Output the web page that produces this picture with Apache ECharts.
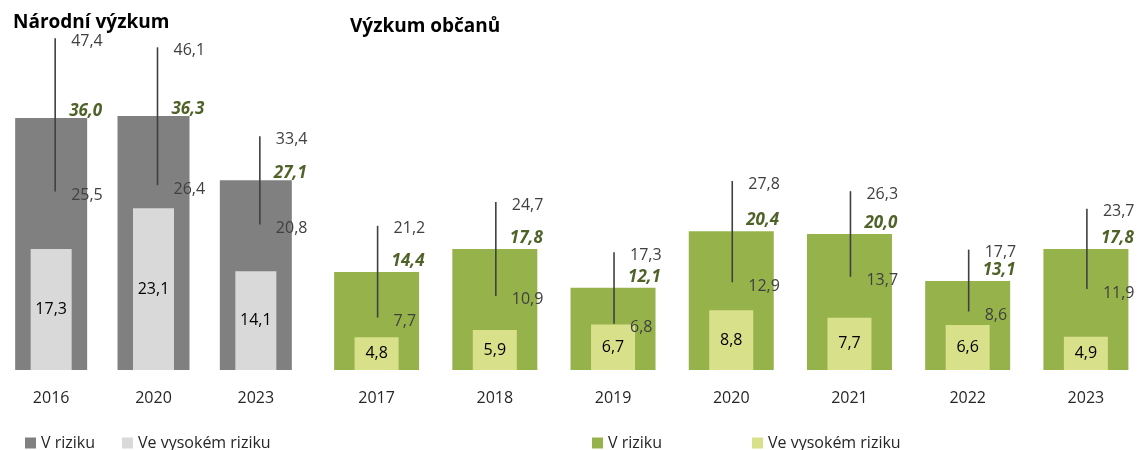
<!DOCTYPE html>
<html>
<head>
<meta charset="utf-8">
<script src="https://cdn.jsdelivr.net/npm/echarts@6/dist/echarts.min.js"></script>
<style>
  html, body { margin: 0; padding: 0; background: #fff; }
  #chart { width: 1145px; height: 450px; }
</style>
</head>
<body>
<div id="chart"></div>
<script>
// Národní výzkum
var natYears = ['2016', '2020', '2023'];
var natRisk = [36.0, 36.3, 27.1];
var natHigh = [17.3, 23.1, 14.1];
var natLow = [25.5, 26.4, 20.8];
var natUp = [47.4, 46.1, 33.4];

// Výzkum občanů
var citYears = ['2017', '2018', '2019', '2020', '2021', '2022', '2023'];
var citRisk = [14.4, 17.8, 12.1, 20.4, 20.0, 13.1, 17.8];
var citHigh = [4.8, 5.9, 6.7, 8.8, 7.7, 6.6, 4.9];
var citLow = [7.7, 10.9, 6.8, 12.9, 13.7, 8.6, 11.9];
var citUp = [21.2, 24.7, 17.3, 27.8, 26.3, 17.7, 23.7];

var FONT = '"Open Sans", "Noto Sans", sans-serif';

function fmt(v) {
  return Number(v).toFixed(1).replace('.', ',');
}

// spojí interval a průměr do dat pro custom sérii
function errData(low, up, mean) {
  return low.map(function (v, i) { return [i, v, up[i], mean[i]]; });
}

function errorItem(dx, meanDy) {
  return function (params, api) {
    var i = api.value(0);
    var bot = api.coord([i, api.value(1)]);
    var top = api.coord([i, api.value(2)]);
    var mid = api.coord([i, api.value(3)]);
    var x = top[0] + dx;
    var txt = { fill: '#404040', fontSize: 16, fontFamily: FONT, align: 'left', verticalAlign: 'middle' };
    return {
      type: 'group',
      children: [
        { type: 'line', shape: { x1: x, y1: top[1], x2: x, y2: bot[1] }, style: { stroke: '#404040', lineWidth: 1.6 } },
        { type: 'text', x: x + 16, y: top[1] + 3, style: Object.assign({ text: fmt(api.value(2)) }, txt) },
        { type: 'text', x: x + 16, y: bot[1] + 4, style: Object.assign({ text: fmt(api.value(1)) }, txt) },
        { type: 'text', x: x + 14, y: mid[1] + meanDy,
          style: Object.assign({}, txt, { text: fmt(api.value(3)), fill: '#4f6228', fontWeight: 'bold', fontStyle: 'italic', fontSize: 17 }) }
      ]
    };
  };
}

var chart = echarts.init(document.getElementById('chart'));

var catAxis = function (data, grid, show) {
  return {
    type: 'category', gridIndex: grid, data: data, show: show,
    axisLine: { show: false }, axisTick: { show: false },
    axisLabel: { color: '#262626', fontSize: 16, fontFamily: FONT, margin: 20 }
  };
};

var option = {
  animation: false,
  title: [
    { text: 'Národní výzkum', left: 8, top: 8, textStyle: { fontSize: 19, fontWeight: 'bold', color: '#000', fontFamily: FONT } },
    { text: 'Výzkum občanů', left: 345, top: 12, textStyle: { fontSize: 19, fontWeight: 'bold', color: '#000', fontFamily: FONT } }
  ],
  legend: [
    {
      left: 20, top: 430, itemWidth: 11, itemHeight: 11, itemGap: 27, icon: 'rect',
      textStyle: { color: '#262626', fontSize: 16, fontFamily: FONT },
      data: [
        { name: 'V riziku', itemStyle: { color: '#808080' } },
        { name: 'Ve vysokém riziku', itemStyle: { color: '#d9d9d9' } }
      ]
    },
    {
      left: 587, top: 430, itemWidth: 11, itemHeight: 11, itemGap: 90, icon: 'rect',
      textStyle: { color: '#262626', fontSize: 16, fontFamily: FONT },
      data: [
        { name: 'V riziku', itemStyle: { color: '#96b34b' } },
        { name: 'Ve vysokém riziku', itemStyle: { color: '#d8e08a' } }
      ]
    }
  ],
  grid: [
    { left: -5, width: 312, top: 20, bottom: 80 },
    { left: 317.5, width: 832, top: 30, bottom: 80 }
  ],
  xAxis: [
    catAxis(natYears, 0, true),
    catAxis(natYears, 0, false),
    catAxis(citYears, 1, true),
    catAxis(citYears, 1, false)
  ],
  yAxis: [
    { type: 'value', gridIndex: 0, min: 0, max: 50, show: false, splitLine: { show: false } },
    { type: 'value', gridIndex: 1, min: 0, max: 50, show: false, splitLine: { show: false } }
  ],
  series: [
    {
      name: 'V riziku', type: 'bar', xAxisIndex: 0, yAxisIndex: 0, barWidth: 72,
      itemStyle: { color: '#808080' }, data: natRisk
    },
    {
      name: 'Ve vysokém riziku', type: 'bar', xAxisIndex: 1, yAxisIndex: 0, barWidth: 41,
      itemStyle: { color: '#d9d9d9' }, data: natHigh,
      label: { show: true, position: 'inside', color: '#000', fontSize: 16, fontFamily: FONT, formatter: function (p) { return fmt(p.value); } }
    },
    {
      type: 'custom', xAxisIndex: 0, yAxisIndex: 0, z: 5,
      renderItem: errorItem(4, -7), data: errData(natLow, natUp, natRisk)
    },
    {
      name: 'V riziku', type: 'bar', xAxisIndex: 2, yAxisIndex: 1, barWidth: 85,
      itemStyle: { color: '#96b34b' }, data: citRisk
    },
    {
      name: 'Ve vysokém riziku', type: 'bar', xAxisIndex: 3, yAxisIndex: 1, barWidth: 44,
      itemStyle: { color: '#d8e08a' }, data: citHigh,
      label: { show: true, position: 'inside', color: '#000', fontSize: 16, fontFamily: FONT, formatter: function (p) { return fmt(p.value); } }
    },
    {
      type: 'custom', xAxisIndex: 2, yAxisIndex: 1, z: 5,
      renderItem: errorItem(1, -11), data: errData(citLow, citUp, citRisk)
    }
  ]
};

chart.setOption(option);
</script>
</body>
</html>
